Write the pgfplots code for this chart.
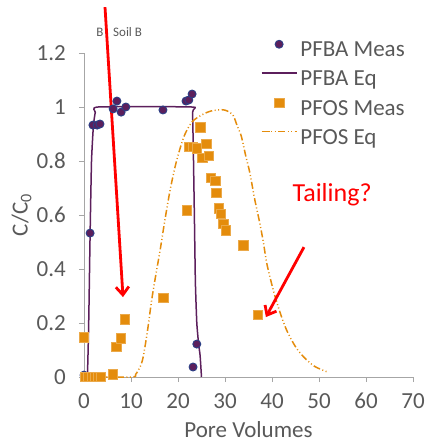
\documentclass[border=0pt]{standalone}
\usepackage{fontspec}
\setmainfont{Carlito}
\usepackage{pgfplots}
\pgfplotsset{compat=1.18}
\usetikzlibrary{arrows.meta}
\definecolor{pfba}{HTML}{5C1F5C}
\definecolor{pfbaedge}{HTML}{2B3F86}
\definecolor{pfos}{HTML}{E48C0C}
\definecolor{axgray}{HTML}{A6A6A6}
\definecolor{txtgray}{HTML}{595959}

\begin{document}
\begin{tikzpicture}
\begin{axis}[
  scale only axis, width=329bp, height=324bp,
  xmin=0, xmax=70, ymin=0, ymax=1.2,
  xtick={0,10,...,70}, ytick={0,0.2,...,1.2},
  axis x line*=bottom, axis y line*=left,
  axis line style={axgray, line width=0.8bp},
  every tick/.style={axgray, line width=0.8bp},
  tick align=outside, major tick length=5bp,
  /pgf/number format/assume math mode=true,
  tick label style={font=\fontsize{23bp}{25bp}\selectfont, text=txtgray},
  yticklabel style={anchor=east, inner sep=0pt, xshift=-13bp},
  xticklabel style={anchor=north, inner sep=0pt, yshift=-11bp},
  label style={font=\fontsize{23bp}{25bp}\selectfont, text=txtgray},
  xlabel={Pore Volumes},
  xlabel style={at={(rel axis cs:0.5,-0.163)}, anchor=center},
  ylabel={C/C\textsubscript{0}},
  ylabel style={at={(rel axis cs:-0.19,0.5)}, anchor=center},
  clip=false,
  legend cell align=left,
  legend style={draw=none, fill=none, at={(rel axis cs:0.537,1.04)}, anchor=north west,
    inner sep=0pt, row sep=7.7bp, column sep=3bp,
    font=\fontsize{23bp}{25bp}\selectfont, text=txtgray,
    nodes={inner sep=0pt, text height=16bp, text depth=5bp}},
  legend image code/.code={\draw[#1, mark repeat=2, mark phase=2] plot coordinates {(0bp,7bp) (17.5bp,7bp) (35bp,7bp)};},
]
\addplot[only marks, mark=*, mark size=4bp, mark options={fill=pfba, draw=pfbaedge, line width=0.9bp}]
  coordinates {(0,0.007) (1.3,0.533) (1.9,0.933) (2.8,0.933) (3.4,0.937) (6.2,0.993) (7.0,1.022)
    (7.9,0.981) (8.9,1.0) (16.8,0.989) (21.7,1.022) (22.3,1.026) (23.0,1.048) (23.2,0.037) (24.0,0.122)};
\addlegendentry{PFBA Meas}
\addplot[pfba, line width=1.5bp, smooth, tension=0.3]
  coordinates {(0,0) (0.7,0) (1.0,0.2) (1.3,0.53) (1.6,0.8) (2.0,0.93) (2.4,0.98) (3.0,1.0)
    (22.9,1.0) (23.1,0.98) (23.3,0.8) (23.5,0.58) (23.7,0.35) (24.0,0.2) (24.4,0.12) (24.7,0.08) (25.0,0)};
\addlegendentry{PFBA Eq}
\addplot[only marks, mark=square*, mark size=4.7bp, mark options={fill=pfos, draw=pfos!75!white, line width=0.5bp}]
  coordinates {(0,0.147) (0.2,0.002) (0.9,0.002) (1.6,0.002) (2.3,0.002) (3.0,0.002) (3.6,0.002)
    (6.1,0.01) (6.9,0.112) (7.8,0.143) (8.7,0.214) (16.9,0.294) (21.8,0.618)
    (22.3,0.853) (23.2,0.853) (24.0,0.847) (24.7,0.925) (25.2,0.812) (26.0,0.863) (26.5,0.82)
    (27.0,0.739) (27.9,0.727) (28.1,0.683) (28.7,0.625) (29.1,0.604) (29.6,0.567) (30.2,0.544)
    (33.9,0.488) (37.0,0.23)};
\addlegendentry{PFOS Meas}
\addplot[pfos, line width=1.5bp, smooth, dash pattern=on 7bp off 2.5bp on 1bp off 2.5bp on 1bp off 2.5bp]
  coordinates {(0,0) (10,0) (11,0.01) (12,0.04) (12.6,0.075) (13.5,0.17) (14.4,0.285) (15.3,0.38)
    (16.2,0.47) (17.2,0.58) (18.3,0.69) (19.4,0.78) (20.5,0.85) (21.5,0.9) (23,0.945) (25,0.97)
    (27,0.985) (29.3,0.99) (30.5,0.985) (31.7,0.97) (32.6,0.93) (33.5,0.89) (34.4,0.82) (35.3,0.755)
    (36.3,0.66) (37.4,0.57) (38.2,0.495) (38.9,0.42) (40.3,0.32) (41.7,0.24) (43.1,0.174)
    (44.9,0.115) (46.7,0.075) (49,0.04) (51.6,0.02)};
\addlegendentry{PFOS Eq}
\node[anchor=center, text=txtgray, font=\fontsize{13bp}{15bp}\selectfont, inner sep=0pt] at (axis cs:3.4,1.278) {B};
\node[anchor=west, text=txtgray, font=\fontsize{13bp}{15bp}\selectfont, inner sep=0pt] at (axis cs:6.17,1.278) {Soil B};
\node[anchor=center, text=red, font=\fontsize{26bp}{28bp}\selectfont, inner sep=0pt] at (axis cs:52.8,0.674) {Tailing?};
\draw[red, line width=2.8bp, -{Straight Barb[length=8bp, width=13bp]}] (axis cs:4.47,1.370) -- (axis cs:8.3,0.296);
\draw[red, line width=2.8bp, -{Straight Barb[length=8bp, width=13bp]}] (axis cs:46.8,0.481) -- (axis cs:38.7,0.222);
\end{axis}
\pgfresetboundingbox
\path[use as bounding box] (-84bp,-67bp) rectangle (344bp,377bp);
\end{tikzpicture}
\end{document}
